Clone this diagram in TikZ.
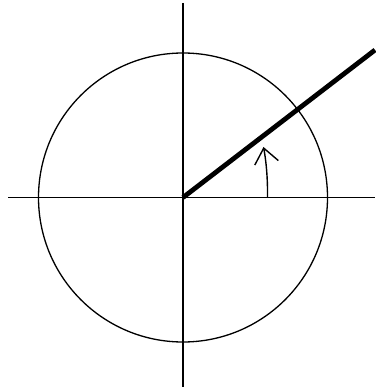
\documentclass[tikz,border=0pt]{standalone}
\usetikzlibrary{arrows.meta}
\begin{document}
\begin{tikzpicture}[x=1pt,y=-1pt,
  axis/.style={line width=1.5pt,black},
  circ/.style={line width=1.3pt,black},
  ray/.style={line width=4.8pt,black},
  anglearrow/.style={line width=1.4pt,black,-{Straight Barb[length=15pt,width=24pt,line width=1.4pt]}}]
\useasboundingbox (0,0) rectangle (375,387);
\coordinate (O) at (183,197.5);
\coordinate (L) at (8,197.5);
\coordinate (R) at (375,197.5);
\coordinate (T) at (183,3);
\coordinate (B) at (183,387);
\coordinate (P) at (375,50);
\coordinate (A0) at (267.5,197.5);
\coordinate (A1) at (263.5,147);
\draw[axis] (L) -- (R);
\draw[axis] (T) -- (B);
\draw[circ] (O) circle[radius=144.5];
\draw[ray] (O) -- (P);
\draw[anglearrow] (A0) .. controls (267.8,178) and (266,160) .. (A1);
\end{tikzpicture}
\end{document}
